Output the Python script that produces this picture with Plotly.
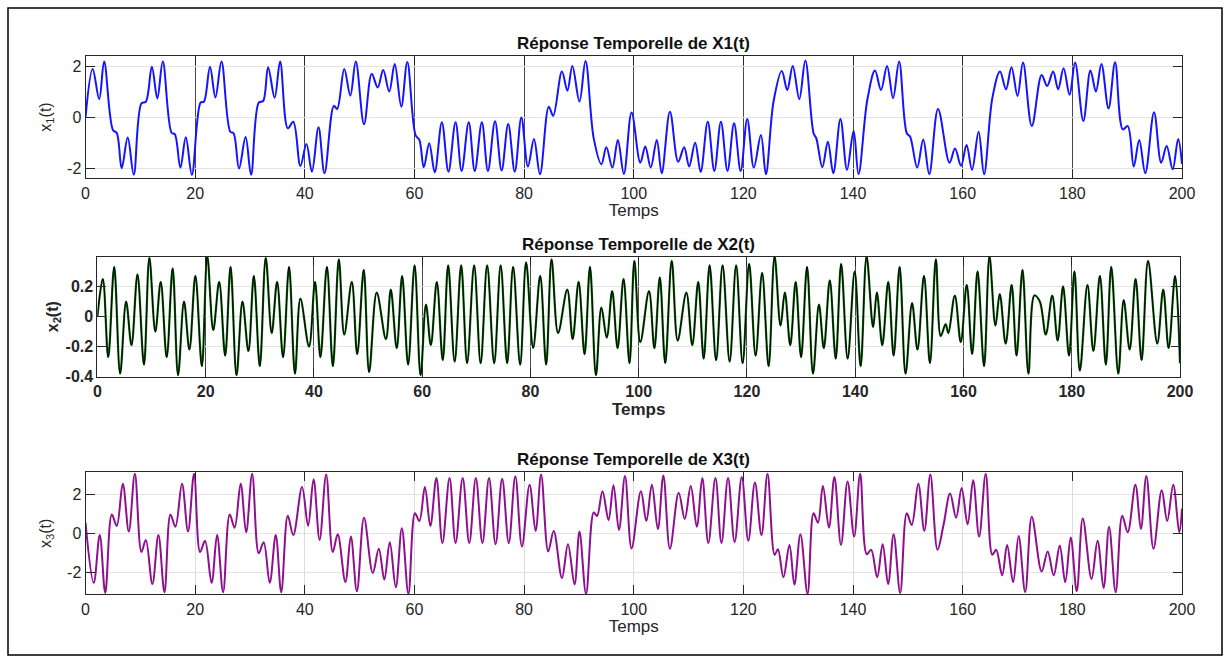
import plotly.graph_objects as go

W, H = 1230, 662

# ---------------- data ----------------
t1 = [0, 1.3, 2.5, 3.4, 5.0, 5.7, 6.6, 7.7, 8.8, 10.2, 11.0, 12.1, 13.1, 14.1, 15.7, 16.3, 17.3, 18.3, 19.4,
      21.0, 21.6, 22.7, 23.7, 24.8, 26.4, 27.0, 28.0, 29.2, 30.2, 31.6, 32.4, 33.3, 34.5, 35.5, 36.9, 37.9,
      39.2, 40.3, 41.3, 42.5, 43.6, 45.3, 45.9, 47.2, 48.3, 49.3, 50.8, 52.2, 53.3, 54.3, 55.4, 56.4, 57.6,
      58.7, 60.2, 60.9, 61.7, 62.7, 63.7, 65.0, 66.2, 67.5, 68.6, 69.9, 71.0, 72.3, 73.4, 74.7, 75.9, 77.1,
      78.3, 79.5, 80.7, 81.8, 82.9, 84.5, 85.3, 86.9, 87.9, 88.8, 90.1, 91.2, 92.7, 94.1, 95.0, 96.1, 97.1,
      98.2, 99.6, 101.2, 102.1, 103.1, 104.2, 105.1, 106.6, 108.1, 109.2, 110.1, 111.2, 112.2, 113.5, 114.7,
      115.9, 117.1, 118.3, 119.5, 120.7, 121.9, 123.2, 124.1, 125.5, 127.0, 128.0, 129.0, 130.2, 131.3,
      132.8, 133.3, 134.4, 135.4, 136.4, 137.7, 138.9, 140.1, 141.0, 142.6, 144.0, 145.1, 146.2, 147.3,
      148.4, 149.8, 150.4, 151.7, 152.8, 153.9, 155.5, 157.6, 158.6, 159.7, 160.7, 161.7, 162.9, 163.9,
      165.4, 166.8, 167.9, 168.9, 170.0, 171.0, 172.6, 174.4, 175.4, 176.5, 177.4, 178.4, 179.5, 180.5,
      182.0, 183.3, 184.3, 185.3, 186.6, 187.8, 189.2, 190.1, 191.2, 192.2, 193.3, 194.9, 196.2, 197.2,
      198.3, 199.3, 200]
x1 = [0, 1.9, 0.72, 2.19, -0.48, -0.6, -1.98, -0.78, -2.23, 0.56, 0.62, 1.99, 0.75, 2.19, -0.59, -0.65, -1.95,
      -0.77, -2.23, 0.59, 0.62, 1.99, 0.79, 2.19, -0.55, -0.61, -1.99, -0.76, -2.23, 0.59, 0.65, 1.97, 0.78,
      2.19, -0.42, -0.16, -1.89, -1.03, -2.11, -0.38, -2.17, 0.46, 0.34, 1.9, 0.86, 2.19, -0.26, 1.71, 1.18,
      1.86, 1.02, 2.1, 0.43, 2.17, -0.68, -0.87, -1.94, -1.0, -2.14, -0.18, -2.11, -0.18, -2.08, -0.18, -2.08,
      -0.18, -2.08, -0.14, -2.07, -0.25, -2.11, 0.01, -1.91, -0.83, -2.21, 0.43, 0.07, 1.8, 1.05, 2.02, 0.63,
      2.21, -0.81, -1.82, -1.16, -1.95, -0.87, -2.2, 0.2, -1.76, -1.13, -1.95, -0.87, -2.17, 0.23, -1.72,
      -1.16, -1.91, -0.98, -2.12, -0.16, -2.08, -0.16, -2.08, -0.22, -2.08, -0.05, -1.95, -0.68, -2.21, 0.63,
      1.82, 1.08, 2.02, 0.73, 2.23, -0.61, -0.81, -1.94, -0.94, -2.17, -0.05, -2.04, -0.52, -2.21, 0.69, 1.84,
      1.08, 2.02, 0.76, 2.19, -0.61, -0.74, -1.95, -0.85, -2.21, 0.34, -1.76, -1.21, -1.88, -1.07, -2.04,
      -0.55, -2.21, 0.76, 1.8, 1.11, 1.97, 0.85, 2.15, -0.33, 1.67, 1.24, 1.8, 1.11, 1.93, 0.89, 2.15, -0.13,
      1.84, 1.02, 2.1, 0.36, 2.16, -0.46, -0.33, -1.91, -0.87, -2.17, 0.21, -1.76, -1.11, -2.02, -0.83, -1.81]

t2 = [0, 1.0, 2.0, 3.1, 4.2, 5.3, 6.3, 7.4, 8.6, 9.6, 10.7, 11.7, 12.8, 13.9, 14.9, 16.0, 17.0, 18.1, 19.3,
      20.3, 21.4, 22.5, 23.6, 24.6, 25.7, 26.8, 27.9, 28.9, 30.0, 31.1, 32.2, 33.2, 34.3, 35.4, 36.5, 37.5,
      39.1, 40.2, 41.2, 42.4, 43.5, 44.6, 45.6, 47.0, 48.0, 49.2, 50.2, 51.6, 53.3, 54.2, 55.3, 56.3, 57.4,
      58.6, 59.7, 60.7, 61.6, 62.7, 63.8, 64.8, 66.0, 67.2, 68.3, 69.6, 70.8, 72.0, 73.3, 74.5, 75.7, 76.8,
      78.1, 79.2, 80.5, 81.8, 82.9, 83.9, 85.1, 86.8, 87.8, 88.9, 90.0, 91.0, 92.1, 93.1, 94.1, 95.1, 96.1,
      97.2, 98.3, 99.2, 100.3, 101.9, 102.9, 103.9, 104.9, 106.1, 107.2, 108.8, 109.9, 111.0, 112.0, 113.1,
      114.3, 115.5, 116.8, 118.0, 119.2, 120.4, 121.6, 122.8, 124.0, 125.1, 126.2, 127.0, 128.0, 129.0,
      130.0, 131.1, 132.2, 133.3, 134.2, 135.3, 136.4, 137.4, 138.6, 139.9, 141.0, 142.1, 143.3, 144.0,
      145.0, 146.1, 147.1, 148.2, 149.3, 150.5, 151.5, 152.7, 153.8, 154.9, 155.8, 156.7, 157.2, 158.4,
      159.5, 160.6, 161.6, 162.6, 163.8, 164.8, 165.9, 166.7, 167.8, 168.9, 169.8, 170.9, 172.0, 173.1,
      174.1, 175.2, 176.4, 177.4, 178.4, 179.5, 180.5, 181.5, 182.9, 184.0, 185.2, 186.3, 187.3, 188.6,
      189.6, 190.7, 191.8, 192.9, 194.1, 195.8, 196.9, 197.9, 199.1, 200]
x2 = [0.0, 0.25, -0.27, 0.33, -0.38, 0.10, -0.19, 0.28, -0.32, 0.39, -0.10, 0.23, -0.27, 0.32, -0.39, 0.10,
      -0.22, 0.27, -0.33, 0.40, -0.09, 0.23, -0.26, 0.33, -0.39, 0.10, -0.23, 0.27, -0.33, 0.39, -0.11, 0.23,
      -0.27, 0.33, -0.38, 0.12, -0.20, 0.23, -0.27, 0.33, -0.33, 0.38, -0.12, 0.23, -0.25, 0.31, -0.37, 0.16,
      -0.15, 0.18, -0.21, 0.27, -0.32, 0.34, -0.39, 0.08, -0.19, 0.23, -0.29, 0.34, -0.30, 0.34, -0.31, 0.34,
      -0.31, 0.34, -0.31, 0.34, -0.31, 0.33, -0.32, 0.36, -0.21, 0.27, -0.32, 0.38, -0.11, 0.18, -0.15, 0.23,
      -0.25, 0.33, -0.39, 0.06, -0.14, 0.17, -0.21, 0.25, -0.31, 0.37, -0.17, 0.17, -0.21, 0.26, -0.31, 0.37,
      -0.16, 0.16, -0.19, 0.23, -0.28, 0.34, -0.29, 0.34, -0.30, 0.34, -0.31, 0.35, -0.26, 0.29, -0.33, 0.40,
      -0.06, 0.16, -0.19, 0.23, -0.27, 0.33, -0.38, 0.08, -0.21, 0.24, -0.28, 0.35, -0.28, 0.30, -0.33, 0.40,
      -0.07, 0.16, -0.19, 0.23, -0.26, 0.33, -0.38, 0.09, -0.22, 0.27, -0.31, 0.38, -0.13, -0.05, -0.11, 0.14,
      -0.17, 0.21, -0.25, 0.30, -0.33, 0.40, -0.06, 0.15, -0.18, 0.21, -0.26, 0.31, -0.38, 0.14, 0.10, -0.12,
      0.14, -0.16, 0.20, -0.26, 0.30, -0.36, 0.21, -0.23, 0.27, -0.32, 0.33, -0.38, 0.11, -0.22, 0.25, -0.29,
      0.37, -0.18, 0.18, -0.21, 0.27, -0.31]

t3 = [0, 1.5, 2.6, 3.6, 4.8, 5.7, 6.8, 7.9, 9.0, 10.2, 11.0, 12.2, 13.3, 14.4, 15.5, 16.4, 17.6, 18.7, 19.8,
      20.9, 21.8, 23.0, 24.0, 25.1, 26.3, 27.2, 28.3, 29.3, 30.4, 31.6, 32.5, 33.6, 34.7, 35.7, 36.9, 37.9,
      39.5, 40.6, 41.6, 42.7, 43.9, 45.1, 46.0, 47.4, 48.4, 49.5, 50.8, 52.4, 53.5, 54.5, 55.5, 56.6, 57.7,
      58.9, 60.1, 60.9, 61.9, 62.9, 64.0, 65.1, 66.4, 67.5, 68.8, 70.0, 71.2, 72.4, 73.6, 74.8, 76.0, 77.2,
      78.4, 79.6, 81.0, 82.1, 83.1, 84.4, 85.4, 86.9, 88.0, 89.2, 90.1, 91.3, 92.7, 93.3, 94.3, 95.4, 96.3,
      97.3, 98.4, 99.6, 101.3, 102.3, 103.3, 104.4, 105.4, 106.6, 108.2, 109.3, 110.4, 111.5, 112.5, 113.6,
      114.9, 116.0, 117.2, 118.4, 119.7, 120.9, 122.1, 123.3, 124.4, 125.7, 126.3, 127.3, 128.4, 129.3,
      130.4, 131.7, 132.8, 133.6, 134.5, 135.6, 136.6, 137.8, 139.0, 140.2, 141.3, 142.5, 143.3, 144.4,
      145.4, 146.4, 147.4, 148.6, 149.8, 150.7, 151.9, 153.0, 154.1, 155.4, 156.5, 157.7, 158.8, 159.8,
      160.9, 161.9, 163.0, 164.2, 165.4, 166.1, 167.2, 168.1, 169.2, 170.2, 171.4, 172.6, 174.4, 175.5,
      176.6, 177.7, 178.7, 179.7, 180.8, 181.9, 183.5, 184.6, 185.7, 186.7, 187.9, 189.1, 190.1, 191.5,
      192.5, 193.5, 194.8, 196.3, 197.3, 198.4, 199.5, 200]
x3 = [0.55, -2.56, -0.09, -3.08, 0.97, 0.38, 2.56, 0.09, 3.08, -0.97, -0.34, -2.62, -0.09, -3.04, 0.97, 0.34,
      2.56, 0.09, 3.08, -0.97, -0.39, -2.56, -0.09, -3.04, 0.97, 0.29, 2.56, 0.05, 3.08, -1.03, -0.46, -2.56,
      -0.09, -3.04, 0.91, -0.09, 2.39, 0.39, 2.79, -0.34, 3.03, -0.97, -0.05, -2.51, -0.17, -2.99, 0.80, -2.05,
      -0.80, -2.39, -0.46, -2.79, 0.26, -3.13, 1.03, 0.63, 2.39, 0.38, 2.85, -0.51, 2.85, -0.51, 2.85, -0.51,
      2.85, -0.51, 2.85, -0.56, 2.82, -0.51, 2.94, -0.68, 2.51, 0.12, 3.03, -0.94, 0.12, -2.31, -0.56, -2.65,
      0.09, -3.13, 1.08, 0.89, 2.17, 0.68, 2.48, 0.17, 2.96, -0.78, 2.17, 0.63, 2.51, 0.22, 2.99, -0.80, 2.10,
      0.74, 2.44, 0.34, 2.85, -0.51, 2.85, -0.51, 2.85, -0.46, 2.91, -0.39, 2.62, -0.09, 3.08, -1.11, -0.82,
      -2.27, -0.60, -2.65, -0.05, -3.13, 1.03, 0.55, 2.44, 0.29, 2.91, -0.60, 2.68, -0.17, 3.08, -1.08, -0.85,
      -2.27, -0.56, -2.62, -0.05, -3.08, 1.03, 0.43, 2.56, 0.12, 3.03, -0.85, 0.43, 2.05, 0.80, 2.34, 0.46,
      2.74, -0.17, 3.08, -1.11, -0.85, -2.17, -0.60, -2.53, -0.14, -3.04, 0.85, -1.97, -0.94, -2.17, -0.63,
      -2.53, -0.22, -2.99, 0.77, -2.36, -0.39, -2.82, 0.34, -3.04, 0.91, 0.05, 2.51, 0.22, 2.96, -0.80, 2.22,
      0.63, 2.51, 0.05, 1.28]

x_ticks = [0, 20, 40, 60, 80, 100, 120, 140, 160, 180, 200]
y1_ticks = [-2, 0, 2]
y2_ticks = [-0.4, -0.2, 0, 0.2]
y2_labels = ["-0.4", "-0.2", "0", "0.2"]
y3_ticks = [-2, 0, 2]
titles = ["Réponse Temporelle de X1(t)", "Réponse Temporelle de X2(t)", "Réponse Temporelle de X3(t)"]
ylabels = ["x<sub>1</sub>(t)", "x<sub>2</sub>(t)", "x<sub>3</sub>(t)"]
xlabel = "Temps"

# ---------------- layout geometry (pixels) ----------------
FONT = "Liberation Sans, Arial, sans-serif"
TXT = "#262626"
panels = [
    dict(x0=85.5, x1=1182, y0=55.7, y1=178.3, rng=[-2.37, 2.42]),
    dict(x0=97.4, x1=1180, y0=256.7, y1=376.7, rng=[-0.4, 0.398]),
    dict(x0=85.5, x1=1182, y0=472.3, y1=594.3, rng=[-3.15, 3.15]),
]
ystandoff = [11, 3, 11]

def xd(p):
    return [p["x0"] / W, p["x1"] / W]

def yd(p):
    return [1 - p["y1"] / H, 1 - p["y0"] / H]

fig = go.Figure()
fig.add_trace(go.Scatter(x=t1, y=x1, mode="lines", line=dict(color="#1414ff", width=2, shape="spline"),
                         xaxis="x", yaxis="y", showlegend=False))
fig.add_trace(go.Scatter(x=t2, y=x2, mode="lines", line=dict(color="#0a6a0a", width=2.2, shape="spline"),
                         xaxis="x2", yaxis="y2", showlegend=False))
fig.add_trace(go.Scatter(x=t2, y=x2, mode="lines", line=dict(color="#000000", width=1.0, shape="spline"),
                         xaxis="x2", yaxis="y2", showlegend=False))
fig.add_trace(go.Scatter(x=t3, y=x3, mode="lines", line=dict(color="#8e108e", width=2, shape="spline"),
                         xaxis="x3", yaxis="y3", showlegend=False))

xgrid = ["#4a4a4a", "#4a4a4a", "#dcdcdc"]
yticks = [(y1_ticks, [str(v) for v in y1_ticks]), (y2_ticks, y2_labels), (y3_ticks, [str(v) for v in y3_ticks])]
bolds = [False, True, False]

layout = dict(width=W, height=H, margin=dict(l=0, r=0, t=0, b=0),
              paper_bgcolor="white", plot_bgcolor="white", showlegend=False)
annotations = []
for i, p in enumerate(panels):
    sx = "" if i == 0 else str(i + 1)
    weight = "bold" if bolds[i] else "normal"
    tf = dict(family=FONT, size=16, color=TXT, weight=weight)
    layout["xaxis" + sx] = dict(domain=xd(p), range=[0, 200], anchor="y" + sx, tickvals=x_ticks,
                                ticks="inside", ticklen=9, tickcolor="#262626", mirror="ticks",
                                showline=True, linecolor="#262626", linewidth=1,
                                showgrid=True, gridcolor=xgrid[i], gridwidth=1, zeroline=False,
                                tickfont=tf, automargin=False,
                                title=dict(text=xlabel, standoff=2,
                                           font=dict(family=FONT, size=17, color=TXT, weight=weight)))
    layout["yaxis" + sx] = dict(domain=yd(p), range=p["rng"], anchor="x" + sx,
                                tickvals=yticks[i][0], ticktext=yticks[i][1],
                                ticks="inside", ticklen=9, tickcolor="#262626", mirror="ticks",
                                showline=True, linecolor="#262626", linewidth=1,
                                showgrid=True, gridcolor="#e3e3e3", gridwidth=1, zeroline=False,
                                tickfont=tf, automargin=False,
                                title=dict(text=ylabels[i], standoff=ystandoff[i],
                                           font=dict(family=FONT, size=16, color=TXT, weight=weight)))
    cx = (p["x0"] + p["x1"]) / 2
    annotations.append(dict(x=cx / W, y=1 - (p["y0"] - 1) / H, xref="paper", yref="paper",
                            xanchor="center", yanchor="bottom", showarrow=False, text="<b>%s</b>" % titles[i],
                            font=dict(family=FONT, size=17, color="#111111")))
layout["annotations"] = annotations
layout["shapes"] = [dict(type="rect", xref="paper", yref="paper", x0=8 / W, x1=1222 / W,
                         y0=1 - 655 / H, y1=1 - 8 / H, line=dict(color="black", width=1.5))]
fig.update_layout(**layout)
fig.write_html("out.html", post_script="document.body.style.margin='0';document.body.style.overflow='hidden';")
